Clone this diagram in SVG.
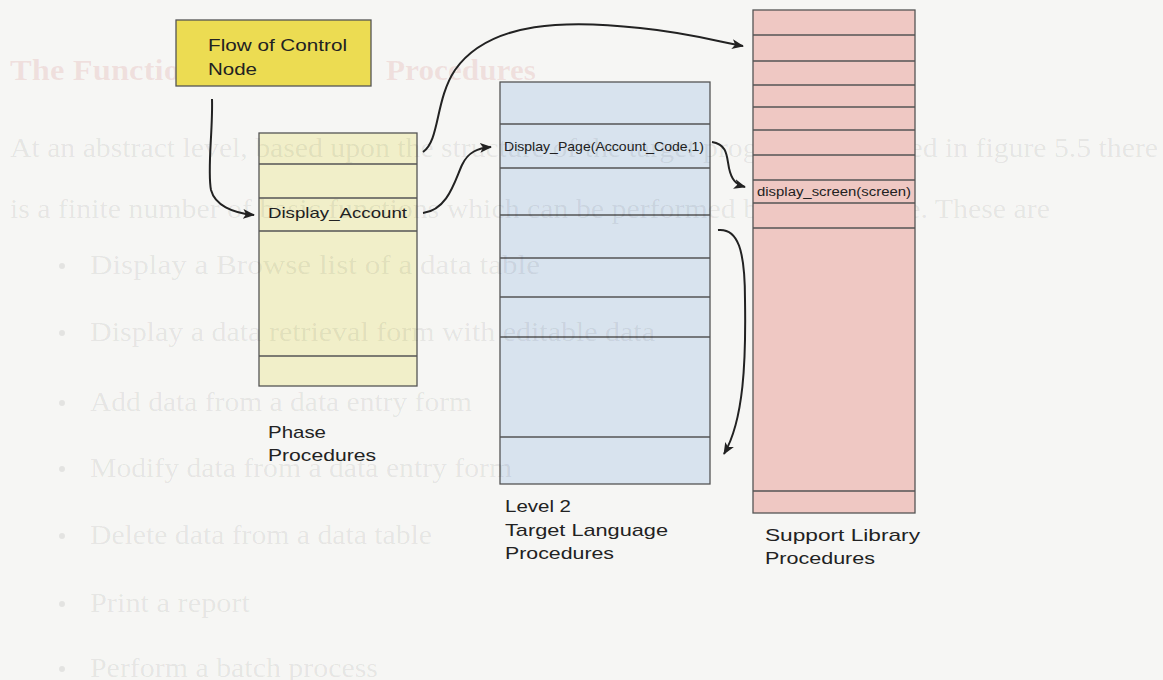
<svg xmlns="http://www.w3.org/2000/svg" width="1163" height="680" viewBox="0 0 1163 680">
  <defs>
    <marker id="arrow" viewBox="0 0 12 10" refX="11" refY="5" markerWidth="12" markerHeight="10" markerUnits="userSpaceOnUse" orient="auto">
      <path d="M0,0 L12,5 L0,10 L3,5 Z" fill="#222"/>
    </marker>
    <style>
      .page { fill: #f6f6f4; }
      .ghost { font-family: "Liberation Serif", serif; font-size: 28px; fill: #000; fill-opacity: 0.075; }
      .ghost-head { font-family: "Liberation Serif", serif; font-size: 29px; font-weight: bold; fill: #c04040; fill-opacity: 0.12; }
      .dot { fill: #000; fill-opacity: 0.075; }
      .cell { stroke: #555; stroke-width: 1.3; }
      .rule { stroke: #555; stroke-width: 1.3; }
      .hand { font-family: "Liberation Sans", sans-serif; fill: #222; }
      .conn { fill: none; stroke: #222; stroke-width: 2; marker-end: url(#arrow); }
    </style>
  </defs>

  <rect class="page" x="0" y="0" width="1163" height="680"/>

  <!-- phase procedures stack -->
  <g id="phase-procedures">
    <rect class="cell" x="259" y="133" width="158" height="253" fill="#f1efc9"/>
    <line class="rule" x1="259" y1="164" x2="417" y2="164"/>
    <line class="rule" x1="259" y1="198" x2="417" y2="198"/>
    <line class="rule" x1="259" y1="231" x2="417" y2="231"/>
    <line class="rule" x1="259" y1="356" x2="417" y2="356"/>
    <text class="hand" x="268" y="218" font-size="15" textLength="139" lengthAdjust="spacingAndGlyphs">Display_Account</text>
    <text class="hand" x="268" y="438" font-size="17" textLength="58" lengthAdjust="spacingAndGlyphs">Phase</text>
    <text class="hand" x="268" y="461" font-size="17" textLength="108" lengthAdjust="spacingAndGlyphs">Procedures</text>
  </g>

  <!-- level 2 target language procedures stack -->
  <g id="target-procedures">
    <rect class="cell" x="500" y="82" width="210" height="402" fill="#d8e3ee"/>
    <line class="rule" x1="500" y1="124" x2="710" y2="124"/>
    <line class="rule" x1="500" y1="168" x2="710" y2="168"/>
    <line class="rule" x1="500" y1="215" x2="710" y2="215"/>
    <line class="rule" x1="500" y1="258" x2="710" y2="258"/>
    <line class="rule" x1="500" y1="297" x2="710" y2="297"/>
    <line class="rule" x1="500" y1="337" x2="710" y2="337"/>
    <line class="rule" x1="500" y1="437" x2="710" y2="437"/>
    <text class="hand" x="504" y="151" font-size="13" textLength="200" lengthAdjust="spacingAndGlyphs">Display_Page(Account_Code,1)</text>
    <text class="hand" x="505" y="512" font-size="17" textLength="66" lengthAdjust="spacingAndGlyphs">Level 2</text>
    <text class="hand" x="505" y="536" font-size="17" textLength="163" lengthAdjust="spacingAndGlyphs">Target Language</text>
    <text class="hand" x="505" y="559" font-size="17" textLength="109" lengthAdjust="spacingAndGlyphs">Procedures</text>
  </g>

  <!-- faint page text showing through the sheet -->
  <g id="page-text">
    <text class="ghost-head" x="10" y="80" textLength="170" lengthAdjust="spacingAndGlyphs">The Functio</text>
    <text class="ghost-head" x="386" y="80" textLength="150" lengthAdjust="spacingAndGlyphs">Procedures</text>
    <text class="ghost" x="10" y="157" textLength="1148" lengthAdjust="spacingAndGlyphs">At an abstract level, based upon the structure of the target program, illustrated in figure 5.5 there</text>
    <text class="ghost" x="10" y="218" textLength="1040" lengthAdjust="spacingAndGlyphs">is a finite number of basic functions which can be performed by a procedure.  These are</text>
    <circle class="dot" cx="62" cy="266" r="3"/>
    <text class="ghost" x="90" y="274" textLength="450" lengthAdjust="spacingAndGlyphs">Display a Browse list of a data table</text>
    <circle class="dot" cx="62" cy="333" r="3"/>
    <text class="ghost" x="90" y="341" textLength="565" lengthAdjust="spacingAndGlyphs">Display a data retrieval form with editable data</text>
    <circle class="dot" cx="62" cy="403" r="3"/>
    <text class="ghost" x="90" y="411" textLength="382" lengthAdjust="spacingAndGlyphs">Add data from a data entry form</text>
    <circle class="dot" cx="62" cy="469" r="3"/>
    <text class="ghost" x="90" y="477" textLength="422" lengthAdjust="spacingAndGlyphs">Modify data from a data entry form</text>
    <circle class="dot" cx="62" cy="536" r="3"/>
    <text class="ghost" x="90" y="544" textLength="342" lengthAdjust="spacingAndGlyphs">Delete data from a data table</text>
    <circle class="dot" cx="62" cy="604" r="3"/>
    <text class="ghost" x="90" y="612" textLength="160" lengthAdjust="spacingAndGlyphs">Print a report</text>
    <circle class="dot" cx="62" cy="669" r="3"/>
    <text class="ghost" x="90" y="677" textLength="288" lengthAdjust="spacingAndGlyphs">Perform a batch process</text>
  </g>

  <!-- flow of control node -->
  <g id="flow-node">
    <rect class="cell" x="176" y="20" width="195" height="66" fill="#ecdc52"/>
    <text class="hand" x="208" y="51" font-size="17" textLength="139" lengthAdjust="spacingAndGlyphs">Flow of Control</text>
    <text class="hand" x="208" y="75" font-size="17" textLength="49" lengthAdjust="spacingAndGlyphs">Node</text>
  </g>

  <!-- support library procedures stack -->
  <g id="support-procedures">
    <rect class="cell" x="753" y="10" width="162" height="503" fill="#efc8c3"/>
    <line class="rule" x1="753" y1="35" x2="915" y2="35"/>
    <line class="rule" x1="753" y1="61" x2="915" y2="61"/>
    <line class="rule" x1="753" y1="85" x2="915" y2="85"/>
    <line class="rule" x1="753" y1="107" x2="915" y2="107"/>
    <line class="rule" x1="753" y1="130" x2="915" y2="130"/>
    <line class="rule" x1="753" y1="155" x2="915" y2="155"/>
    <line class="rule" x1="753" y1="180" x2="915" y2="180"/>
    <line class="rule" x1="753" y1="203" x2="915" y2="203"/>
    <line class="rule" x1="753" y1="228" x2="915" y2="228"/>
    <line class="rule" x1="753" y1="491" x2="915" y2="491"/>
    <text class="hand" x="757" y="196" font-size="12" textLength="154" lengthAdjust="spacingAndGlyphs">display_screen(screen)</text>
    <text class="hand" x="765" y="541" font-size="17" textLength="155" lengthAdjust="spacingAndGlyphs">Support Library</text>
    <text class="hand" x="765" y="564" font-size="17" textLength="110" lengthAdjust="spacingAndGlyphs">Procedures</text>
  </g>

  <!-- calls between procedures -->
  <g id="connectors">
    <path class="conn" d="M212,99 C213,130 207,170 211,190 C215,205 232,213 254,215"/>
    <path class="conn" d="M423,213 C448,210 455,180 462,165 C468,152 478,148 491,147"/>
    <path class="conn" d="M423,152 C440,140 435,100 455,70 C490,20 570,20 640,28 C690,33 720,42 743,46"/>
    <path class="conn" d="M712,142 C730,145 726,160 730,172 C733,182 738,185 745,187"/>
    <path class="conn" d="M718,230 C738,228 745,250 745,300 C746,360 744,420 724,454"/>
  </g>
</svg>
